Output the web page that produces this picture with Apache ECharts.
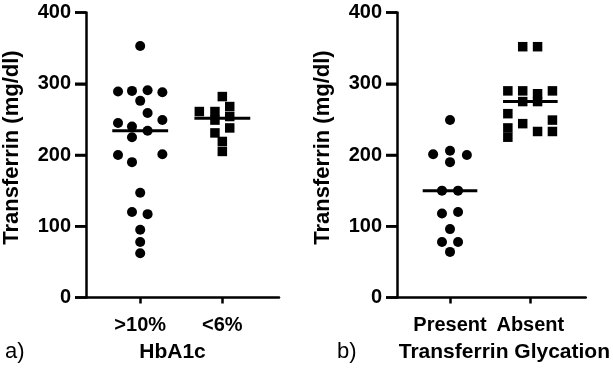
<!DOCTYPE html>
<html>
<head>
<meta charset="utf-8">
<script src="https://cdn.jsdelivr.net/npm/echarts@6/dist/echarts.min.js"></script>
<style>
  html, body { margin: 0; padding: 0; background: #fff; }
  #chart { width: 613px; height: 379px; }
</style>
</head>
<body>
<div id="chart"></div>
<script>
// ---- data ----
const categoriesA = ['>10%', '<6%'];
const categoriesB = ['Present', 'Absent'];
const yTicks = [0, 100, 200, 300, 400];
const yTitle = 'Transferrin (mg/dl)';
const xTitleA = 'HbA1c';
const xTitleB = 'Transferrin Glycation';

// each point: [horizontal jitter from category centre (category units), transferrin mg/dl]
const hba1cHigh = [
  [0, 353], [-0.27, 289], [-0.1, 290], [0.09, 291], [0.27, 288], [0, 276],
  [0.09, 259], [-0.27, 245], [0.27, 249], [-0.1, 240], [0.09, 234], [-0.1, 225],
  [-0.27, 200], [0.27, 201], [-0.1, 190], [0, 147], [-0.1, 120], [0.09, 117],
  [0, 95], [0, 78], [0, 62]
];
const hba1cLow = [
  [0, 282], [-0.28, 261], [-0.09, 261], [0.09, 268], [-0.09, 249], [0.09, 254],
  [0.09, 238], [-0.09, 231], [0, 219], [0, 205]
];
const glycPresent = [
  [0, 249], [-0.21, 201], [0, 206], [0.21, 200], [0, 190], [-0.1, 150], [0.1, 150],
  [-0.1, 118], [0.1, 120], [0, 96], [-0.1, 78], [0.1, 78], [0, 64]
];
const glycAbsent = [
  [-0.095, 352], [0.09, 352], [-0.28, 290], [-0.095, 290], [0.09, 286], [0.275, 290],
  [-0.095, 275], [0.09, 275], [-0.28, 258], [-0.095, 244], [0.275, 249], [-0.28, 238],
  [0.09, 233], [0.275, 233], [-0.28, 225]
];

// ---- helpers ----
function median(pts) {
  const v = pts.map(p => p[1]).sort((a, b) => a - b);
  const n = v.length;
  return n % 2 ? v[(n - 1) / 2] : (v[n / 2 - 1] + v[n / 2]) / 2;
}
function place(pts, cat) { return pts.map(p => [cat + p[0], p[1]]); }
const HALF = 0.34;
const X_MIN = 0.34, X_MAX = 2.69;
function medLine(pts, cat) { const m = median(pts); return [[cat - HALF, m], [cat + HALF, m]]; }

const FONT = 'Liberation Sans';
const INK = '#000';
const TICK_LEN = 11;

function makeX(idx, cats, title, pad) {
  return {
    type: 'value', gridIndex: idx, min: X_MIN, max: X_MAX,
    axisLine: { show: true, onZero: false, lineStyle: { color: INK, width: 2.5 } },
    axisTick: { show: true, inside: false, length: 6, customValues: [1, 2], lineStyle: { color: INK, width: 2.5 } },
    axisLabel: { show: true, customValues: [1, 2], margin: 18,
      formatter: v => cats[Math.round(v) - 1] || '',
      fontFamily: FONT, fontWeight: 'bold', fontSize: 20, color: INK },
    splitLine: { show: false },
    name: title, nameLocation: 'middle', nameGap: 44,
    nameTextStyle: { fontFamily: FONT, fontWeight: 'bold', fontSize: 21, color: INK, padding: pad }
  };
}
function makeY(idx) {
  return {
    type: 'value', gridIndex: idx, min: yTicks[0], max: yTicks[yTicks.length - 1], interval: 100,
    axisLine: { show: true, onZero: false, lineStyle: { color: INK, width: 2.5 } },
    axisTick: { show: true, inside: false, length: TICK_LEN, lineStyle: { color: INK, width: 2.5 } },
    axisLabel: { show: true, margin: 15, fontFamily: FONT, fontWeight: 'bold', fontSize: 20, color: INK },
    splitLine: { show: false },
    name: yTitle, nameLocation: 'middle', nameGap: 63,
    nameTextStyle: { fontFamily: FONT, fontWeight: 'bold', fontSize: 22, color: INK, padding: [0, 0, 0, 15] }
  };
}
function scatter(idx, pts, cat, sym) {
  return {
    type: 'scatter', xAxisIndex: idx, yAxisIndex: idx, data: place(pts, cat),
    symbol: sym, symbolSize: sym === 'circle' ? 10 : 9.5,
    itemStyle: { color: INK, opacity: 1 }, z: 3
  };
}
function line(idx, pts, cat) {
  return {
    type: 'line', xAxisIndex: idx, yAxisIndex: idx, data: medLine(pts, cat),
    symbol: 'none', lineStyle: { color: INK, width: 3 }, z: 4
  };
}
// outward y ticks, positioned through the y scale (api.coord)
function yTickMarks(idx) {
  return {
    type: 'custom', xAxisIndex: idx, yAxisIndex: idx, clip: false, silent: true, z: 20,
    data: yTicks.map(v => [X_MIN, v]),
    renderItem: (params, api) => {
      const p = api.coord([api.value(0), api.value(1)]);
      return { type: 'line', shape: { x1: p[0] - TICK_LEN, y1: p[1], x2: p[0], y2: p[1] },
        style: { stroke: INK, lineWidth: 2.5 } };
    }
  };
}

const chart = echarts.init(document.getElementById('chart'));
chart.setOption({
  animation: false,
  grid: [
    { left: 86, width: 193, top: 12.5, height: 285 },
    { left: 397, width: 192, top: 12.5, height: 285 }
  ],
  xAxis: [makeX(0, categoriesA, xTitleA, [0, 20, 0, 0]), makeX(1, categoriesB, xTitleB, [0, 0, 0, 26])],
  yAxis: [makeY(0), makeY(1)],
  series: [
    scatter(0, hba1cHigh, 1, 'circle'), line(0, hba1cHigh, 1),
    scatter(0, hba1cLow, 2, 'rect'), line(0, hba1cLow, 2),
    scatter(1, glycPresent, 1, 'circle'), line(1, glycPresent, 1),
    scatter(1, glycAbsent, 2, 'rect'), line(1, glycAbsent, 2),
    yTickMarks(0), yTickMarks(1)
  ],
  graphic: [
    { type: 'text', left: 5, top: 341, style: { text: 'a)', fontFamily: FONT, fontSize: 22, fill: INK } },
    { type: 'text', left: 337, top: 341, style: { text: 'b)', fontFamily: FONT, fontSize: 22, fill: INK } }
  ]
});
</script>
</body>
</html>
